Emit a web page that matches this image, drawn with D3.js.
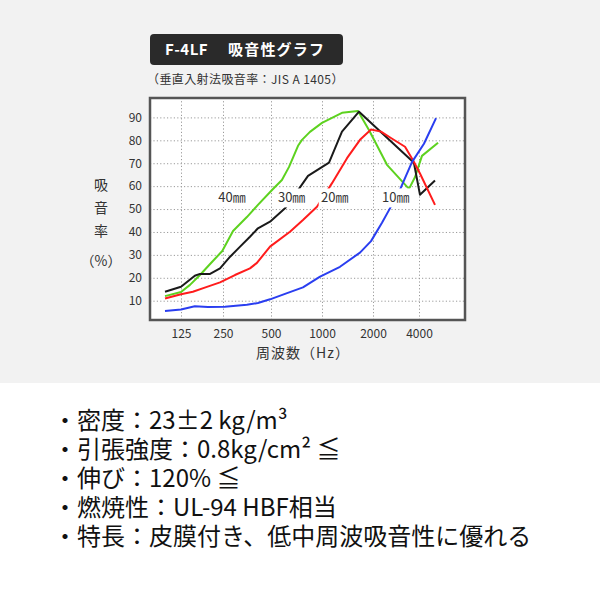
<!DOCTYPE html>
<html>
<head>
<meta charset="utf-8">
<script src="https://cdn.jsdelivr.net/npm/d3@7"></script>
<style>
  body { margin: 0; background: #fff; }
  text { font-family: "Noto Sans CJK JP", "Noto Sans", sans-serif; }
</style>
</head>
<body>
<div id="container"></div>
<script>
/* DATA */
const freqTicks = [125, 250, 500, 1000, 2000, 4000];
const absTicks = [10, 20, 30, 40, 50, 60, 70, 80, 90];

// [frequency Hz, absorption %]
const curve40 = [[96, 12.0], [125, 13.8], [145, 16.9], [171, 21.2], [202, 26.0], [247, 31.7], [289, 40.4], [353, 46.5], [414, 51.8], [507, 58.3], [580, 62.7], [639, 68.4], [722, 77.6], [762, 80.2], [849, 83.7], [1000, 87.6], [1312, 92.0], [1630, 92.8], [1893, 84.5], [2470, 69.3], [3440, 58.8], [3770, 64.0], [4183, 73.2], [5330, 78.9]];
const curve30 = [[96, 13.9], [125, 16.1], [157, 20.9], [171, 21.7], [202, 21.7], [238, 24.1], [277, 29.2], [320, 33.6], [369, 37.9], [414, 41.6], [493, 44.5], [605, 50.3], [712, 57.6], [827, 64.5], [1100, 70.3], [1312, 83.8], [1654, 92.5], [3546, 71.4], [3710, 70.0], [4060, 56.2], [5090, 62.5]];
const curve20 = [[96, 11.0], [125, 12.8], [152, 13.9], [185, 15.7], [238, 18.0], [297, 21.2], [369, 24.1], [408, 26.5], [493, 33.6], [647, 40.1], [772, 45.2], [934, 51.0], [1146, 61.3], [1405, 72.2], [1676, 80.2], [1947, 84.7], [2256, 83.8], [2622, 81.0], [3240, 77.2], [3647, 71.4], [4060, 65.5], [5090, 51.8]];
const curve10 = [[96, 5.5], [125, 6.2], [157, 7.6], [195, 7.3], [257, 7.4], [353, 8.2], [414, 9.0], [493, 10.6], [605, 13.0], [772, 15.8], [974, 20.5], [1277, 24.8], [1676, 31.0], [1947, 36.0], [2290, 44.0], [2582, 50.3], [3004, 58.5], [3597, 70.5], [4310, 78.5], [5170, 89.7]];

const seriesNames = ["40㎜", "30㎜", "20㎜", "10㎜"];
const seriesData = [curve40, curve30, curve20, curve10];
const seriesColors = ["#5dd21f", "#1a1a1a", "#ff1c1c", "#2a3ef0"];
// label anchor (frequency, %) for each thickness label
const labelFreq = [285, 662, 1188, 2818];
const labelValue = 55.3;

const specLines = [
  "・密度：23±2 kg/m³",
  "・引張強度：0.8kg/cm² ≦",
  "・伸び：120% ≦",
  "・燃焼性：UL-94 HBF相当",
  "・特長：皮膜付き、低中周波吸音性に優れる"
];

/* LAYOUT */
const width = 600, height = 600;
const plot = { left: 150, right: 465, top: 98, bottom: 320 };

const svg = d3.select("#container").append("svg")
  .attr("width", width)
  .attr("height", height);

// grey upper panel
svg.append("rect")
  .attr("width", width).attr("height", 383)
  .attr("fill", "#f2f2f2");

// title badge
svg.append("rect")
  .attr("x", 150).attr("y", 34).attr("width", 193).attr("height", 31)
  .attr("rx", 4)
  .attr("fill", "#2a2a2a");
svg.append("text")
  .attr("x", 165).attr("y", 55)
  .attr("fill", "#fff").style("font-weight", "bold").style("font-size", "15px")
  .style("letter-spacing", "0.5px")
  .text("F-4LF");
svg.append("text")
  .attr("x", 228).attr("y", 55)
  .attr("fill", "#fff").style("font-weight", "bold").style("font-size", "15px")
  .style("letter-spacing", "1.2px")
  .text("吸音性グラフ");
svg.append("text")
  .attr("x", 147).attr("y", 83.5)
  .attr("fill", "#333").style("font-size", "12px")
  .style("letter-spacing", "0.4px")
  .text("（垂直入射法吸音率：JIS A 1405）");

/* SCALES */
const xScale = d3.scaleLog()
  .domain(freqTicks)
  .range([181, 223, 271, 322, 373, 419]);

const yScale = d3.scaleLinear()
  .domain([10, 90])
  .range([300.7, 117.4]);

// plot background
svg.append("rect")
  .attr("x", plot.left).attr("y", plot.top)
  .attr("width", plot.right - plot.left).attr("height", plot.bottom - plot.top)
  .attr("fill", "#fff");

// y axis + horizontal grid
const yAxis = svg.append("g")
  .attr("transform", `translate(${plot.left}, 0)`)
  .call(d3.axisLeft(yScale).tickValues(absTicks)
    .tickSize(-(plot.right - plot.left)).tickPadding(8));

// x axis + vertical grid
const xAxis = svg.append("g")
  .attr("transform", `translate(0, ${plot.bottom})`)
  .call(d3.axisBottom(xScale).tickValues(freqTicks).tickFormat(d3.format("d"))
    .tickSize(-(plot.bottom - plot.top)).tickPadding(9));

[yAxis, xAxis].forEach(g => {
  g.select(".domain").remove();
  g.selectAll(".tick line")
    .attr("stroke", "#9a9a9a")
    .attr("stroke-width", 1)
    .attr("stroke-dasharray", "1.2,2.2");
  g.selectAll(".tick text")
    .attr("fill", "#333")
    .style("font-size", "12px")
    .style("font-family", "\"Noto Sans CJK JP\", sans-serif");
});

// curves
const line = d3.line()
  .x(d => xScale(d[0]))
  .y(d => yScale(d[1]));

svg.selectAll(".curve")
  .data(seriesData)
  .join("path")
  .attr("class", "curve")
  .attr("d", line)
  .attr("fill", "none")
  .attr("stroke", (d, i) => seriesColors[i])
  .attr("stroke-width", 2)
  .attr("stroke-linejoin", "round");

// thickness labels with white knock-out
const labels = svg.selectAll(".thk")
  .data(seriesNames)
  .join("g")
  .attr("class", "thk")
  .attr("transform", (d, i) => `translate(${xScale(labelFreq[i])}, ${yScale(labelValue)})`);
labels.append("rect")
  .attr("x", -16).attr("y", -8.5).attr("width", 32).attr("height", 19)
  .attr("fill", "#fff");
labels.append("text")
  .attr("text-anchor", "middle")
  .attr("y", 5)
  .attr("fill", "#333")
  .style("font-size", "13px")
  .text(d => d);

// frame
svg.append("rect")
  .attr("x", plot.left).attr("y", plot.top)
  .attr("width", plot.right - plot.left).attr("height", plot.bottom - plot.top)
  .attr("fill", "none")
  .attr("stroke", "#555")
  .attr("stroke-width", 2.5);

// y title (vertical stack)
const yTitle = ["吸", "音", "率", "（%）"];
svg.selectAll(".ytitle")
  .data(yTitle)
  .join("text")
  .attr("class", "ytitle")
  .attr("x", 101)
  .attr("y", (d, i) => [190, 213, 236, 266][i])
  .attr("text-anchor", "middle")
  .attr("fill", "#333")
  .style("font-size", "14px")
  .text(d => d);

// x title
svg.append("text")
  .attr("x", 303).attr("y", 358)
  .attr("text-anchor", "middle")
  .attr("fill", "#333")
  .style("font-size", "14px")
  .style("letter-spacing", "1px")
  .text("周波数（Hz）");

// spec list
svg.selectAll(".spec")
  .data(specLines)
  .join("text")
  .attr("class", "spec")
  .attr("x", 53)
  .attr("y", (d, i) => 429 + i * 29)
  .attr("fill", "#111")
  .style("font-size", "24px")
  .text(d => d);
</script>
</body>
</html>
